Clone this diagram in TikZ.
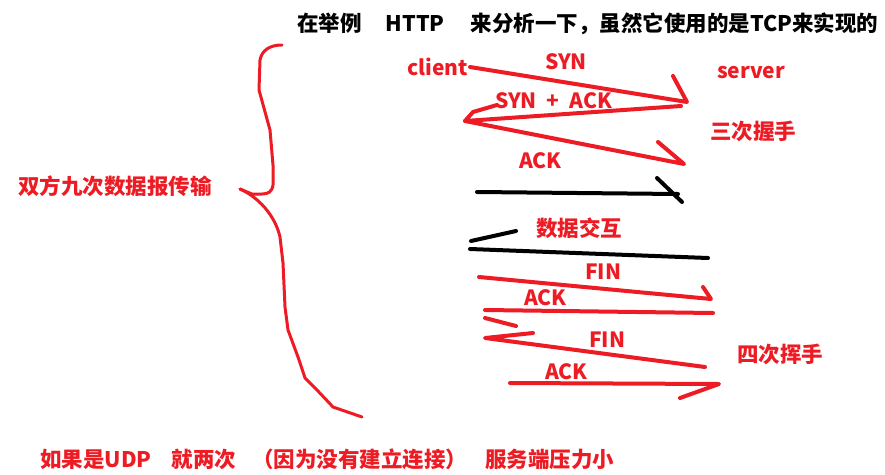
\documentclass[tikz,border=0pt]{standalone}
\usepackage{fontspec}
\setmainfont{Noto Sans CJK SC}
\definecolor{pred}{HTML}{ED1C24}
\tikzset{
  lbl/.style={anchor=west,inner sep=0pt,text=pred,font=\bfseries\fontsize{21}{23}\selectfont},
  cjk/.style={anchor=west,inner sep=0pt,text=pred,font=\bfseries\fontsize{21.5}{23}\selectfont},
  note/.style={anchor=west,inner sep=0pt,font=\bfseries\fontsize{21.5}{23}\selectfont},
  rl/.style={draw=pred,line width=4pt,line cap=round,line join=round},
  bl/.style={draw=black,line width=4pt,line cap=round,line join=round},
  br/.style={draw=pred,line width=3pt,line cap=round,line join=round}
}
\begin{document}
\begin{tikzpicture}[x=1pt,y=-1pt]
\useasboundingbox (0,0) rectangle (885,474);
% texts
\node[note] (title) at (297,24) {在举例\hspace{24pt}HTTP\hspace{26pt}来分析一下，虽然它使用的是TCP来实现的};
\node[lbl] (client) at (407,67) {client};
\node[lbl] (syn) at (545,62) {SYN};
\node[lbl] (server) at (717,73) {server};
\node[lbl] (synack) at (495,101) {SYN\hspace{10pt}+\hspace{10pt}ACK};
\node[cjk] (three) at (710,131) {三次握手};
\node[lbl] (ack1) at (519,161) {ACK};
\node[cjk] (data) at (536,228) {数据交互};
\node[lbl] (fin1) at (585,272) {FIN};
\node[lbl] (ack2) at (524,298) {ACK};
\node[lbl] (fin2) at (589,340) {FIN};
\node[cjk] (four) at (737,354) {四次挥手};
\node[lbl] (ack3) at (545,372) {ACK};
\node[cjk] (nine) at (18,186) {双方九次数据报传输};
\node[note,text=pred] (udp) at (40,459) {如果是UDP\hspace{20pt}就两次\hspace{16pt}（因为没有建立连接）\hspace{18pt}服务端压力小};
% coordinates
\coordinate (c1) at (470,67);
\coordinate (s1) at (687,102);
\coordinate (h1) at (673,76);
\coordinate (s2) at (681,106);
\coordinate (c2) at (465,121);
\coordinate (h2a) at (473,112);
\coordinate (h2b) at (497,105);
\coordinate (s3) at (684,164);
\coordinate (h3) at (658,142);
\coordinate (d1a) at (477,192);
\coordinate (d1b) at (678,194);
\coordinate (d1h1) at (657,178);
\coordinate (d1h2) at (682,202);
\coordinate (d2a) at (708,258);
\coordinate (d2b) at (470,249);
\coordinate (d2h1) at (471,241);
\coordinate (d2h2) at (516,231);
\coordinate (f1a) at (479,277);
\coordinate (f1b) at (711,299);
\coordinate (f1h) at (703,287);
\coordinate (a2a) at (713,313);
\coordinate (a2b) at (485,310);
\coordinate (a2h1) at (485,318);
\coordinate (a2h2) at (516,326);
\coordinate (f2h) at (533,333);
\coordinate (f2a) at (485,338);
\coordinate (f2b) at (705,367);
\coordinate (a3a) at (510,383);
\coordinate (a3b) at (719,384);
\coordinate (a3h) at (680,398);
% three-way handshake
\path[rl] (c1) -- (s1) -- (h1);
\path[rl] (s2) -- (c2) -- (h2a) -- (h2b);
\path[rl] (c2) -- (s3) -- (h3);
% data exchange
\path[bl] (d1a) -- (d1b);
\path[bl] (d1h1) -- (d1h2);
\path[bl] (d2a) -- (d2b);
\path[bl] (d2h1) -- (d2h2);
% four-way wave
\path[rl] (f1a) -- (f1b) -- (f1h);
\path[rl] (a2a) -- (a2b);
\path[rl] (a2h1) -- (a2h2);
\path[rl] (f2h) -- (f2a) -- (f2b);
\path[rl] (a3a) -- (a3b) -- (a3h);
% brace
\path[br] (282,45) .. controls (270,45) and (262,50) .. (260,60)
  -- (259,90) -- (270,130) -- (273,165) -- (273,185)
  .. controls (272,192) and (268,194) .. (262,194) -- (252,194) -- (240,189);
\path[br] (240,189) .. controls (258,197) and (275,215) .. (280,237)
  -- (283,263) -- (285,307) -- (288,330) -- (298,357) -- (305,378)
  -- (317,390) -- (333,407) -- (362,417);
\end{tikzpicture}
\end{document}
